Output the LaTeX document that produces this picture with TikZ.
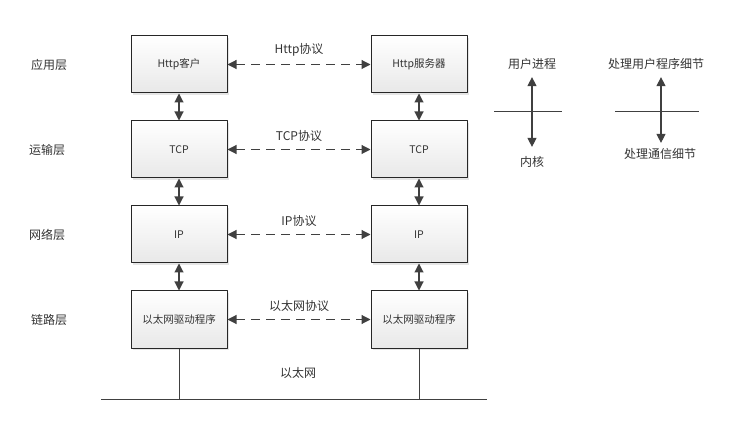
\documentclass[tikz,border=0pt]{standalone}
\usepackage{fontspec}
\setmainfont{Noto Sans CJK SC}
\usetikzlibrary{arrows.meta,shadows}
\begin{document}
\begin{tikzpicture}[x=1pt, y=-1pt, line join=round, >={Triangle[length=9pt,width=9pt]},
		layer/.style={font=\fontsize{10.5pt}{12pt}\selectfont, text=black!80, draw=black!85, line width=1pt,
			minimum width=96pt, minimum height=57pt, top color=white, bottom color=black!9,
			drop shadow={shadow xshift=2pt, shadow yshift=-2pt, fill=black!10, opacity=1}},
		tag/.style={font=\fontsize{12pt}{14pt}\selectfont, text=black!80},
		peer/.style={<->, dash pattern=on 9pt off 6pt, line width=1.1pt, draw=black!75},
		stack/.style={<->, line width=1.1pt, draw=black!75},
		wire/.style={line width=1pt, draw=black!75}]
	\useasboundingbox (0,0) rectangle (740,441);
	
	% Tên các tầng
	\node[tag] (app) at (49,64.5) {应用层};
	\node[tag] (trans) at (47,149.5) {运输层};
	\node[tag] (net) at (47,234.5) {网络层};
	\node[tag] (link) at (49,319.5) {链路层};
	
	% Hai ngăn xếp giao thức
	\node[layer] (httpC) at (179,64.5) {Http客户};
	\node[layer] (tcpC) at (179,149.5) {TCP};
	\node[layer] (ipC) at (179,234.5) {IP};
	\node[layer] (ethC) at (179,319.5) {以太网驱动程序};
	\node[layer] (httpS) at (419,64.5) {Http服务器};
	\node[layer] (tcpS) at (419,149.5) {TCP};
	\node[layer] (ipS) at (419,234.5) {IP};
	\node[layer] (ethS) at (419,319.5) {以太网驱动程序};
	
	\draw[stack] (httpC) -- (tcpC);
	\draw[stack] (tcpC) -- (ipC);
	\draw[stack] (ipC) -- (ethC);
	\draw[stack] (httpS) -- (tcpS);
	\draw[stack] (tcpS) -- (ipS);
	\draw[stack] (ipS) -- (ethS);
	
	% Giao thức ngang hàng
	\draw[peer] (httpC) -- node[tag, above=4pt] {Http协议} (httpS);
	\draw[peer] (tcpC) -- node[tag, above=4pt] {TCP协议} (tcpS);
	\draw[peer] (ipC) -- node[tag, above=4pt] {IP协议} (ipS);
	\draw[peer] (ethC) -- node[tag, above=4pt] {以太网协议} (ethS);
	
	% Đường truyền Ethernet
	\coordinate (busL) at (101,399);
	\coordinate (busR) at (487,399);
	\draw[wire] (busL) -- (busR);
	\draw[wire] (ethC) -- (ethC |- busL);
	\draw[wire] (ethS) -- (ethS |- busL);
	\node[tag] (ether) at (298,373) {以太网};
	
	% Chú thích bên phải
	\node[tag] (user) at (532,64) {用户进程};
	\node[tag] (kernel) at (532,162) {内核};
	\draw[stack, shorten <=4pt, shorten >=6pt] (user) -- (kernel);
	\draw[wire] (494,112) -- (562,112);
	\node[tag] (appDetail) at (656,64) {处理用户程序细节};
	\node[tag] (commDetail) at (660,154) {处理通信细节};
	\draw[stack, shorten <=4pt, shorten >=2pt] (appDetail.south -| 661,0) -- (commDetail.north -| 661,0);
	\draw[wire] (615,112) -- (699,112);
\end{tikzpicture}
\end{document}
